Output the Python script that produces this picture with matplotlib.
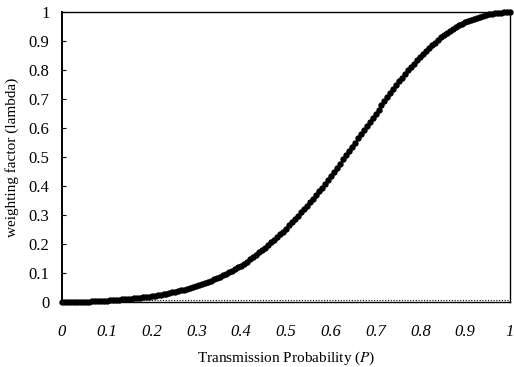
import numpy as np
import matplotlib.pyplot as plt

lam = [
    0.0000, 0.0001, 0.0002, 0.0003, 0.0004, 0.0006, 0.0007, 0.0010, 0.0013,
    0.0016, 0.0021, 0.0025, 0.0030, 0.0037, 0.0043, 0.0050, 0.0058, 0.0065,
    0.0073, 0.0081, 0.0089, 0.0097, 0.0107, 0.0116, 0.0126, 0.0137, 0.0149,
    0.0160, 0.0173, 0.0187, 0.0200, 0.0218, 0.0235, 0.0253, 0.0272, 0.0291,
    0.0310, 0.0332, 0.0353, 0.0375, 0.0401, 0.0426, 0.0452, 0.0481, 0.0511,
    0.0540, 0.0578, 0.0617, 0.0655, 0.0698, 0.0742, 0.0785, 0.0832, 0.0878,
    0.0925, 0.0977, 0.1028, 0.1080, 0.1137, 0.1193, 0.1250, 0.1323, 0.1397,
    0.1470, 0.1550, 0.1630, 0.1710, 0.1795, 0.1880, 0.1965, 0.2057, 0.2148,
    0.2240, 0.2337, 0.2433, 0.2530, 0.2640, 0.2750, 0.2860, 0.2975, 0.3090,
    0.3205, 0.3325, 0.3445, 0.3565, 0.3693, 0.3822, 0.3950, 0.4083, 0.4217,
    0.4350, 0.4492, 0.4633, 0.4775, 0.4920, 0.5065, 0.5210, 0.5355, 0.5500,
    0.5645, 0.5788, 0.5932, 0.6075, 0.6217, 0.6358, 0.6500, 0.6640, 0.6780,
    0.6920, 0.7060, 0.7200, 0.7340, 0.7473, 0.7607, 0.7740, 0.7863, 0.7987,
    0.8110, 0.8223, 0.8337, 0.8450, 0.8553, 0.8657, 0.8760, 0.8855, 0.8950,
    0.9045, 0.9127, 0.9208, 0.9290, 0.9357, 0.9423, 0.9490, 0.9543, 0.9597,
    0.9650, 0.9692, 0.9733, 0.9775, 0.9808, 0.9842, 0.9875, 0.9898, 0.9922,
    0.9945, 0.9958, 0.9972, 0.9985, 0.9990, 0.9995, 1.0000,
]
P = np.linspace(0, 1, len(lam))

ticks = [0, 0.1, 0.2, 0.3, 0.4, 0.5, 0.6, 0.7, 0.8, 0.9, 1]
tick_labels = ["0", "0.1", "0.2", "0.3", "0.4", "0.5", "0.6", "0.7", "0.8", "0.9", "1"]

plt.rcParams['font.family'] = ['Liberation Serif', 'DejaVu Serif']
plt.rcParams['mathtext.fontset'] = 'stix'

fig = plt.figure(figsize=(5.14, 3.67), dpi=100)
ax = fig.add_axes([0.1206, 0.177, 0.8714, 0.79])

# faint dotted baseline seen along the bottom
ax.axhline(0.008, xmin=0.18, xmax=1.0, color="black", linestyle=(0, (1, 1.5)),
           linewidth=0.8)

ax.plot(P, lam, "o", color="black", markersize=4.6, markeredgewidth=0,
        clip_on=False, zorder=3)

ax.set_xlim(0, 1)
ax.set_ylim(0, 1)
ax.set_xticks(ticks)
ax.set_xticklabels(tick_labels, fontsize=12, style="italic")
ax.set_yticks(ticks)
ax.set_yticklabels(tick_labels, fontsize=12)
ax.tick_params(axis="x", length=0, pad=16)
ax.tick_params(axis="y", direction="in", length=3, pad=9, width=0.8)

for s in ax.spines.values():
    s.set_linewidth(1.0)
ax.spines["left"].set_linewidth(1.4)

ax.set_ylabel("weighting factor (lambda)", fontsize=11)
ax.yaxis.set_label_coords(-0.097, 0.5)
ax.set_xlabel("Transmission Probability ($\\it{P}$)", fontsize=11)
ax.xaxis.set_label_coords(0.5, -0.165)

fig.savefig("out.png", dpi=100)
